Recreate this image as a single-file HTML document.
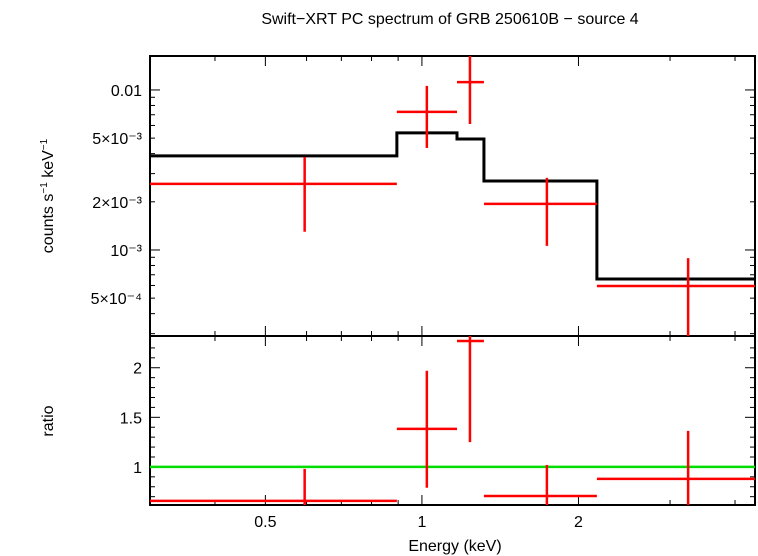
<!DOCTYPE html>
<html><head><meta charset="utf-8"><style>
body{margin:0;background:#fff}
svg{display:block;font-family:"Liberation Sans",sans-serif}
</style></head><body>
<svg id="c" width="758" height="556" viewBox="0 0 758 556">
<text x="450" y="24" text-anchor="middle" font-size="16">Swift−XRT PC spectrum of GRB 250610B − source 4</text>
<text transform="translate(53,196) rotate(-90)" text-anchor="middle" font-size="16">counts s<tspan font-size="10" dy="-6">−1</tspan><tspan dy="6"> keV</tspan><tspan font-size="10" dy="-6">−1</tspan></text>
<text transform="translate(53,421) rotate(-90)" text-anchor="middle" font-size="16">ratio</text>
<text x="455" y="551" text-anchor="middle" font-size="16">Energy (keV)</text>
<g id="g"></g>
</svg>
<script>
const binLo=[0.3,0.895,1.168,1.316,2.17];
const binHi=[0.895,1.168,1.316,2.17,4.37];
const binCenter=[0.595,1.022,1.237,1.739,3.25];
const rate=[2.59e-3,7.29e-3,1.12e-2,1.94e-3,5.96e-4];
const rateHi=[3.81e-3,1.06e-2,1.75e-2,2.82e-3,8.9e-4];
const rateLo=[1.30e-3,4.34e-3,6.13e-3,1.06e-3,2.5e-4];
const model=[3.87e-3,5.39e-3,4.94e-3,2.70e-3,6.59e-4];
const ratio=[0.657,1.384,2.27,0.707,0.879];
const ratioHi=[0.98,1.97,2.6,1.02,1.364];
const ratioLo=[0.33,0.79,1.25,0.4,0.39];
const xTicks=[0.5,1,2];
const xTickLabels=["0.5","1","2"];
const yTopTicks=[0.01,5e-3,2e-3,1e-3,5e-4];
const yTopLabels=["0.01","5×10⁻³","2×10⁻³","10⁻³","5×10⁻⁴"];
const yBotTicks=[1,1.5,2];
const yBotLabels=["1","1.5","2"];

const L=150,R=755,T=56,M=336,B=505;
const xMin=0.3,xMax=4.37;
const X=e=>L+(Math.log10(e)-Math.log10(xMin))/(Math.log10(xMax)-Math.log10(xMin))*(R-L);
const yt0=2.9e-4,yt1=0.0163;
const YT=v=>{const y=M-(Math.log10(v)-Math.log10(yt0))/(Math.log10(yt1)-Math.log10(yt0))*(M-T);return Math.max(T,Math.min(M,y));};
const yb0=0.616,yb1=2.32;
const YB=v=>{const y=B-(v-yb0)/(yb1-yb0)*(B-M);return Math.max(M,Math.min(B,y));};
const g=document.getElementById('g');const NS='http://www.w3.org/2000/svg';
function el(t,a,txt){const e=document.createElementNS(NS,t);for(const k in a)e.setAttribute(k,a[k]);if(txt!==undefined)e.textContent=txt;g.appendChild(e);return e;}
function ln(x1,y1,x2,y2,c,w){return el('line',{x1,y1,x2,y2,stroke:c,'stroke-width':w});}

// axes frames
let f=el('rect',{x:L,y:T,width:R-L,height:M-T,fill:'none',stroke:'#000','stroke-width':2});


f=el('rect',{x:L,y:M,width:R-L,height:B-M,fill:'none',stroke:'#000','stroke-width':2});



// x ticks
for(let e=0.3;e<=4.01;e+= (e<0.95?0.1:1)){
  const v=Math.round(e*10)/10;const x=X(v);const maj=xTicks.includes(v);const len=maj?10:5;
  ln(x,T,x,T+len,'#000',1);ln(x,M,x,M-len,'#000',1);ln(x,M,x,M+len,'#000',1);ln(x,B,x,B-len,'#000',1);
}
xTicks.forEach((v,i)=>{const t=el('text',{x:X(v),y:527,'text-anchor':'middle','font-size':16},xTickLabels[i]);

});
// top y ticks
[3e-4,4e-4,5e-4,6e-4,7e-4,8e-4,9e-4,1e-3,2e-3,3e-3,4e-3,5e-3,6e-3,7e-3,8e-3,9e-3,1e-2].forEach(v=>{
  const y=YT(v);const len=(v===1e-3||v===1e-2)?10:5;ln(L,y,L+len,y,'#000',1);ln(R,y,R-len,y,'#000',1);});
yTopTicks.forEach((v,i)=>{const t=el('text',{x:142,y:YT(v)+6,'text-anchor':'end','font-size':16},yTopLabels[i]);

});
// bottom y ticks
for(let v=0.7;v<=2.3;v+=0.1){const vv=Math.round(v*10)/10;const y=YB(vv);const len=(Math.abs(vv*2-Math.round(vv*2))<1e-6)?10:5;ln(L,y,L+len,y,'#000',1);ln(R,y,R-len,y,'#000',1);}
yBotTicks.forEach((v,i)=>{const t=el('text',{x:142,y:YB(v)+6,'text-anchor':'end','font-size':16},yBotLabels[i]);

});

// model step line
let d='';binLo.forEach((lo,i)=>{d+=(i?'L':'M')+X(lo)+','+YT(model[i])+'L'+X(binHi[i])+','+YT(model[i]);});
const mp=el('path',{d,fill:'none',stroke:'#000','stroke-width':3});



// green ratio line
const gl=ln(L,YB(1),R,YB(1),'#00dd00',2.5);



// data
binLo.forEach((lo,i)=>{
  let a=ln(X(lo),YT(rate[i]),X(binHi[i]),YT(rate[i]),'#f00',2.5);
  
  
  a=ln(X(binCenter[i]),YT(rateHi[i]),X(binCenter[i]),YT(rateLo[i]),'#f00',2.5);
  
  
  a=ln(X(lo),YB(ratio[i]),X(binHi[i]),YB(ratio[i]),'#f00',2.5);
  
  
  a=ln(X(binCenter[i]),YB(ratioHi[i]),X(binCenter[i]),YB(ratioLo[i]),'#f00',2.5);
  
  
});
</script>
</body></html>
